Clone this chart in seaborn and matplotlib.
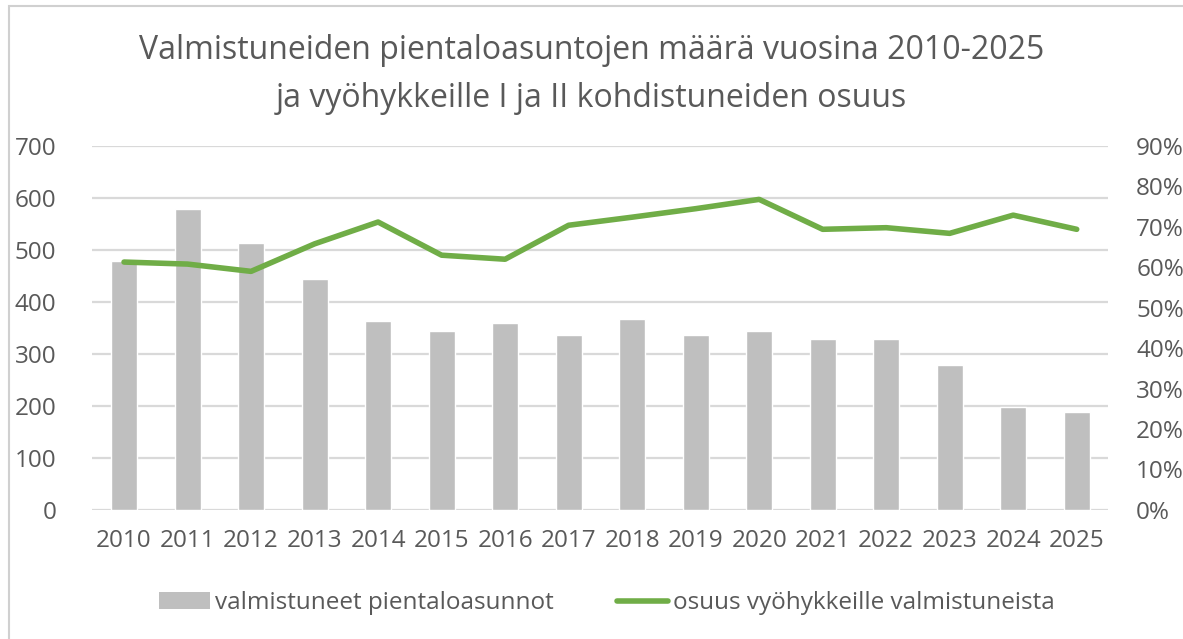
import matplotlib
matplotlib.use("Agg")
import matplotlib.pyplot as plt
import seaborn as sns
import pandas as pd
from matplotlib.lines import Line2D
from matplotlib.patches import Patch, Rectangle
from matplotlib.ticker import PercentFormatter, MultipleLocator

years = [str(y) for y in range(2010, 2026)]
completed = [479, 579, 513, 444, 363, 344, 360, 337, 367, 337, 344, 329, 329, 279, 198, 188]
share = [61.3, 60.8, 59.0, 65.8, 71.2, 63.0, 62.0, 70.4, 72.4, 74.5, 76.8, 69.4, 69.8, 68.4, 72.9, 69.4]

title = "Valmistuneiden pientaloasuntojen määrä vuosina 2010-2025\nja vyöhykkeille I ja II kohdistuneiden osuus"
bar_label = "valmistuneet pientaloasunnot"
line_label = "osuus vyöhykkeille valmistuneista"

df = pd.DataFrame({"vuosi": years, "valmistuneet": completed, "osuus": share})

sns.set_theme(style="white")
plt.rcParams['font.family'] = ['Open Sans', 'DejaVu Sans']
text_col = "#595959"
bar_col = "#bfbfbf"
line_col = "#70ad47"
grid_col = "#d9d9d9"

fig = plt.figure(figsize=(11.83, 6.39), dpi=100)
ax = fig.add_axes([0.078, 0.202, 0.859, 0.5695])

sns.barplot(data=df, x="vuosi", y="valmistuneet", color=bar_col, width=0.41,
            saturation=1, ax=ax, zorder=2)
ax.set_ylim(0, 700)
ax.yaxis.set_major_locator(MultipleLocator(100))
ax.grid(axis="y", color=grid_col, linewidth=1.6, zorder=0)
ax.set_axisbelow(True)
ax.set_xlabel("")
ax.set_ylabel("")
ax.set_xlim(-0.5, len(years) - 0.5)

ax2 = ax.twinx()
sns.lineplot(data=df, x="vuosi", y="osuus", color=line_col, linewidth=4,
             ax=ax2, solid_capstyle="round", sort=False)
ax2.set_ylim(0, 90)
ax2.yaxis.set_major_locator(MultipleLocator(10))
ax2.yaxis.set_major_formatter(PercentFormatter(decimals=0))
ax2.set_xlabel("")
ax2.set_ylabel("")
ax2.set_xlim(-0.5, len(years) - 0.5)

for a in (ax, ax2):
    for s in a.spines.values():
        s.set_visible(False)
    a.tick_params(length=0, labelsize=17.5, labelcolor=text_col)
ax.tick_params(axis="y", pad=26)
ax2.tick_params(axis="y", pad=20)
ax.tick_params(axis="x", pad=14)

fig.text(0.5, 0.884, title, ha="center", va="center", fontsize=23,
         color=text_col, linespacing=1.6)

handles = [Patch(facecolor=bar_col, edgecolor="none"),
           Line2D([0], [0], color=line_col, linewidth=4)]
fig.legend(handles, [bar_label, line_label], loc="center", ncol=2,
           bbox_to_anchor=(0.5127, 0.056), frameon=False, fontsize=17.5,
           labelcolor=text_col, handlelength=2.1, handletextpad=0.2,
           columnspacing=2.6)

fig.patches.append(Rectangle((9 / 1183, -0.1), 1.2, 1.1 - 6 / 639,
                             transform=fig.transFigure, fill=False,
                             edgecolor="#d0d0d0", linewidth=1.5))

fig.savefig("out.png", dpi=100)
